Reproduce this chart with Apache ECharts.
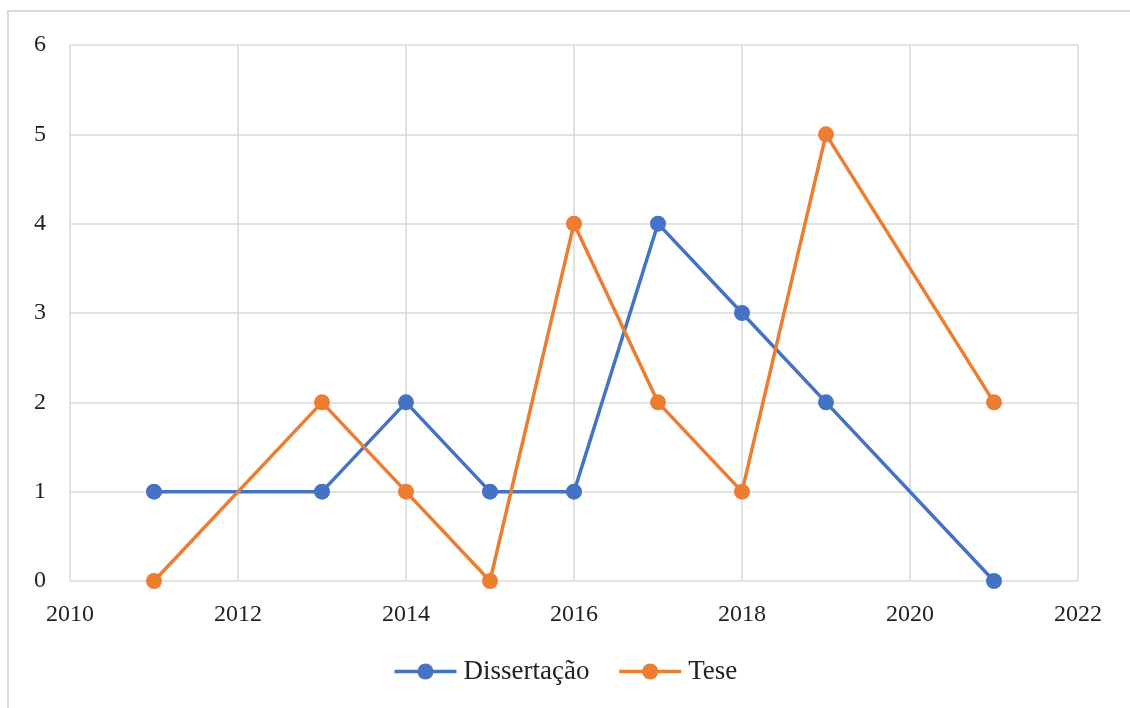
<!DOCTYPE html>
<html>
<head>
<meta charset="utf-8">
<script src="https://cdn.jsdelivr.net/npm/echarts@6/dist/echarts.min.js"></script>
<style>
  html, body { margin: 0; padding: 0; background: #fff; }
  #chart { width: 1130px; height: 708px; }
</style>
</head>
<body>
<div id="chart"></div>
<script>
  // dados
  const anos = [2011, 2013, 2014, 2015, 2016, 2017, 2018, 2019, 2021];
  const dissertacao = [1, 1, 2, 1, 1, 4, 3, 2, 0];
  const tese = [0, 2, 1, 0, 4, 2, 1, 5, 2];
  const nomes = ['Dissertação', 'Tese'];

  const toPairs = (xs, ys) => xs.map((x, i) => [x, ys[i]]);

  const chart = echarts.init(document.getElementById('chart'));
  const fonte = '"Liberation Serif", "DejaVu Serif", serif';
  const cores = ['#4472C4', '#ED7D31'];

  const option = {
    animation: false,
    color: cores,
    textStyle: { fontFamily: fonte },
    graphic: [{
      type: 'rect',
      shape: { x: 8, y: 11, width: 1140, height: 720 },
      style: { fill: 'none', stroke: '#d9d9d9', lineWidth: 2 }
    }],
    grid: { left: 70, right: 52, top: 45, bottom: 127 },
    legend: {
      bottom: 18,
      left: 'center',
      itemWidth: 62,
      itemHeight: 20,
      itemGap: 28,
      lineStyle: { width: 3.5 },
      textStyle: { fontFamily: fonte, fontSize: 27, color: '#222', padding: [0, 0, 0, 2] },
      data: nomes
    },
    xAxis: {
      type: 'value',
      min: 2010,
      max: 2022,
      interval: 2,
      axisLine: { show: false },
      axisTick: { show: false },
      axisLabel: {
        color: '#222', fontSize: 24, fontFamily: fonte, margin: 22,
        formatter: v => String(v)
      },
      splitLine: { show: true, lineStyle: { color: '#d9d9d9', width: 1.5 } }
    },
    yAxis: {
      type: 'value',
      min: 0,
      max: 6,
      interval: 1,
      axisLine: { show: false },
      axisTick: { show: false },
      axisLabel: { color: '#222', fontSize: 24, fontFamily: fonte, margin: 24 },
      splitLine: { show: true, lineStyle: { color: '#d9d9d9', width: 1.5 } }
    },
    series: [
      {
        name: nomes[0],
        type: 'line',
        data: toPairs(anos, dissertacao),
        symbol: 'circle',
        symbolSize: 16,
        lineStyle: { width: 3.5, color: cores[0] },
        itemStyle: { color: cores[0] }
      },
      {
        name: nomes[1],
        type: 'line',
        data: toPairs(anos, tese),
        symbol: 'circle',
        symbolSize: 16,
        lineStyle: { width: 3.5, color: cores[1] },
        itemStyle: { color: cores[1] }
      }
    ]
  };

  chart.setOption(option);
</script>
</body>
</html>
